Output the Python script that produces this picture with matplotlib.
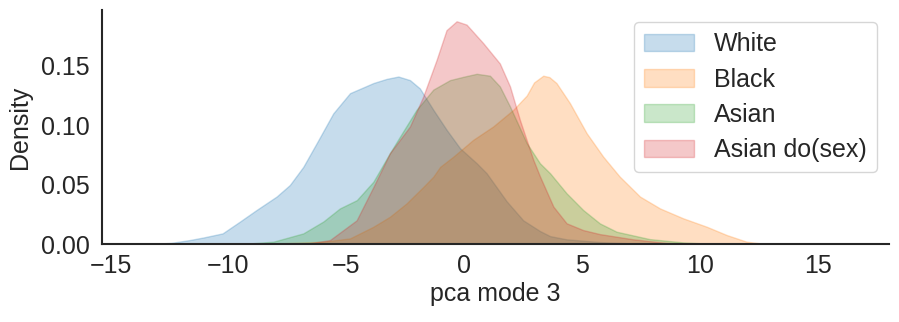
import matplotlib
matplotlib.use('Agg')
import matplotlib.pyplot as plt
import seaborn as sns

sns.set_style('white')
plt.rcParams['font.family'] = ['Arial', 'Liberation Sans', 'DejaVu Sans']

# densities (x = pca mode 3)
white_x = [-13.42, -12.43, -11.64, -11.05, -10.25, -9.51, -8.81, -7.96, -7.40, -6.83, -6.26, -5.56,
           -4.85, -3.86, -3.3, -2.80, -2.31, -1.89, -1.32, -0.75, -0.19, 0.52, 0.94, 1.79,
           2.49, 3.20, 3.63, 4.33, 5.74, 7.16, 8.35]
white_y = [0, 0.001, 0.0034, 0.0056, 0.009, 0.019, 0.0287, 0.040, 0.0497, 0.065, 0.085, 0.110,
           0.127, 0.1355, 0.139, 0.141, 0.138, 0.131, 0.113, 0.096, 0.0807, 0.068, 0.0596, 0.036,
           0.020, 0.011, 0.0067, 0.004, 0.0017, 0.0005, 0]

black_x = [-8.77, -5.98, -4.85, -3.86, -3.16, -2.45, -1.75, -1.32, -1.03, -0.47, 0.37, 1.22, 2.07,
           2.64, 2.95, 3.34, 3.6, 3.90, 4.47, 5.18, 5.88, 6.58, 7.44, 8.29, 9.27, 10.27, 11.12,
           11.96, 12.80]
black_y = [0, 0.002, 0.0048, 0.0146, 0.023, 0.0343, 0.048, 0.0567, 0.065, 0.0736, 0.0877, 0.099, 0.113,
           0.125, 0.136, 0.1417, 0.1405, 0.1355, 0.1186, 0.0933, 0.0736, 0.0568, 0.040, 0.030, 0.0217,
           0.0146, 0.0076, 0.002, 0]

asian_x = [-9.46, -8.10, -6.83, -5.98, -5.28, -4.56, -3.86, -3.16, -2.73, -2.03, -1.32, -0.61, 0.0,
           0.52, 1.08, 1.50, 1.93, 2.64, 3.2, 3.63, 4.33, 5.03, 5.74, 6.45, 7.85, 9.27, 10.72]
asian_y = [0, 0.002, 0.009, 0.019, 0.030, 0.037, 0.0525, 0.0765, 0.0905, 0.113, 0.130, 0.138, 0.141,
           0.1433, 0.1417, 0.1327, 0.1158, 0.085, 0.068, 0.0596, 0.0427, 0.0287, 0.0174, 0.0104,
           0.0042, 0.0014, 0]

dosex_x = [-6.79, -5.70, -4.57, -3.86, -3.16, -2.31, -1.75, -1.18, -0.76, -0.33, 0.09, 0.80, 1.50,
           1.93, 2.35, 2.92, 3.20, 3.77, 4.33, 5.03, 5.74, 7.16, 8.54, 9.34]
dosex_y = [0, 0.0034, 0.020, 0.048, 0.0765, 0.099, 0.124, 0.155, 0.180, 0.1875, 0.1847, 0.169, 0.152,
           0.1327, 0.1045, 0.0708, 0.057, 0.0315, 0.0175, 0.0118, 0.0084, 0.004, 0.001, 0]

labels = ['White', 'Black', 'Asian', 'Asian do(sex)']
series = [(white_x, white_y), (black_x, black_y), (asian_x, asian_y), (dosex_x, dosex_y)]
colors = ['#1f77b4', '#ff7f0e', '#2ca02c', '#d62728']

fig = plt.figure(figsize=(8.99, 3.22), dpi=100)
ax = fig.add_axes([0.1135, 0.242, 0.8755, 0.727])

for (xs, ys), lab, c in zip(series, labels, colors):
    ax.fill_between(xs, ys, 0, facecolor=c, edgecolor=c, alpha=0.25, linewidth=1, label=lab)

ax.set_xlim(-15.36, 18.0)
ax.set_ylim(0, 0.197)
ax.set_xticks([-15, -10, -5, 0, 5, 10, 15])
ax.set_yticks([0, 0.05, 0.10, 0.15])
ax.set_yticklabels(['0.00', '0.05', '0.10', '0.15'])
ax.tick_params(labelsize=18, colors='#262626', length=0)
ax.tick_params(axis='y', pad=9)
ax.tick_params(axis='x', pad=7)
ax.set_xlabel('pca mode 3', fontsize=18, color='#262626', labelpad=3)
ax.set_ylabel('Density', fontsize=18, color='#262626', labelpad=6)
for s in ['left', 'bottom']:
    ax.spines[s].set_color('#262626')
    ax.spines[s].set_linewidth(1.5)
sns.despine(ax=ax)

leg = ax.legend(loc='upper right', fontsize=18, frameon=True,
                handlelength=2.0, handleheight=0.7, labelspacing=0.45, handletextpad=0.8)
for t in leg.get_texts():
    t.set_color('#262626')

fig.savefig('out.png', dpi=100)
